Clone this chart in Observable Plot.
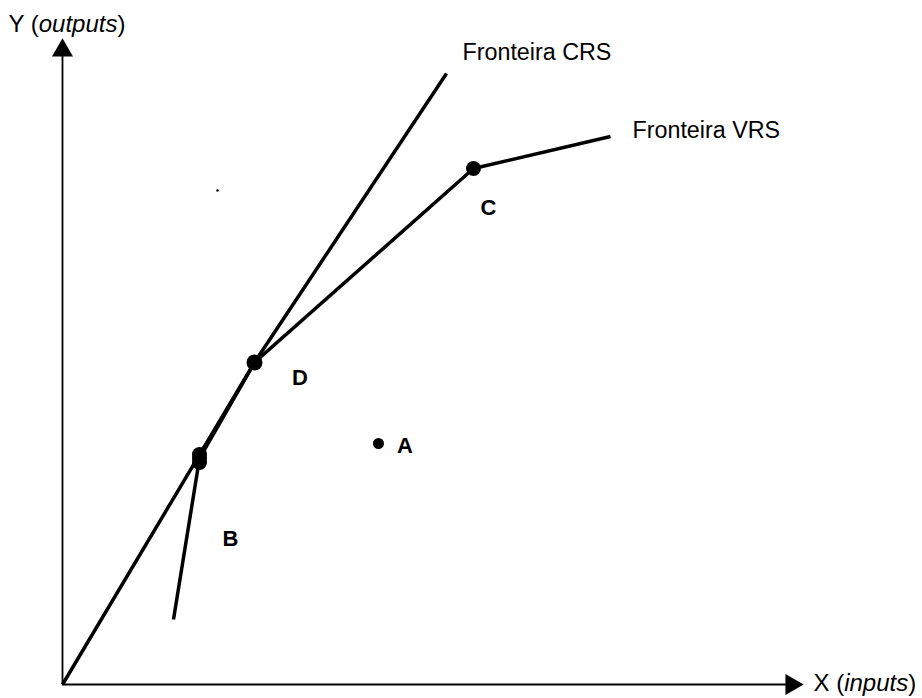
<!DOCTYPE html>
<html>
<head>
<meta charset="utf-8">
<script src="https://cdn.jsdelivr.net/npm/d3@7"></script>
<script src="https://cdn.jsdelivr.net/npm/@observablehq/plot@0.6"></script>
<style>
  html, body { margin: 0; padding: 0; background: #fff; }
  #chart svg { display: block; }
</style>
</head>
<body>
<div id="chart"></div>
<script>
// Data (units: input x, output y, origin at 0,0)
const crsX = [0, 192, 384];
const crsY = [0, 322, 611];
const vrsX = [111, 137, 192, 411, 548];
const vrsY = [65, 226, 322, 516, 548];
const pointNames = ["A", "B", "B", "B", "C", "D"];
const pointX = [316, 137, 137, 137, 411, 192];
const pointY = [241, 230, 226, 222, 516, 322];
const pointR = [5.5, 7.5, 7.5, 7.5, 7.5, 8];
const labelNames = ["A", "B", "C", "D"];
const labelX = [342.5, 168, 426, 237.5];
const labelY = [239, 146, 477, 307];
const frontierNames = ["Fronteira CRS", "Fronteira VRS"];
const frontierX = [400, 570];
const frontierY = [631.5, 553.5];
const strayX = [155];
const strayY = [494];

const crs = crsX.map((x, i) => ({x, y: crsY[i]}));
const vrs = vrsX.map((x, i) => ({x, y: vrsY[i]}));
const pts = pointX.map((x, i) => ({name: pointNames[i], x, y: pointY[i], r: pointR[i]}));
const labels = labelX.map((x, i) => ({name: labelNames[i], x, y: labelY[i]}));
const fronts = frontierX.map((x, i) => ({name: frontierNames[i], x, y: frontierY[i]}));

const font = "'Liberation Sans', Arial, Helvetica, sans-serif";

const plot = Plot.plot({
  width: 922,
  height: 698,
  margin: 0,
  x: {domain: [-62, 860], range: [0, 922], axis: null},
  y: {domain: [-14, 684], range: [698, 0], axis: null},
  r: {type: "identity"},
  style: {background: "#fff", fontFamily: font},
  marks: [
    // axes
    Plot.ruleX([0], {y1: 0, y2: 630, stroke: "#000", strokeWidth: 1.8}),
    Plot.ruleY([0], {x1: 0, x2: 725, stroke: "#000", strokeWidth: 1.8}),
    Plot.dot([{x: 0, y: 634}], {x: "x", y: "y", symbol: "triangle", r: 7.8, fill: "#000", stroke: null}),
    Plot.dot([{x: 729, y: 0}], {x: "x", y: "y", symbol: "triangle", r: 7.8, fill: "#000", stroke: null, rotate: 90}),
    // frontiers
    Plot.line(crs, {x: "x", y: "y", stroke: "#000", strokeWidth: 3.5, strokeLinecap: "butt"}),
    Plot.line(vrs, {x: "x", y: "y", stroke: "#000", strokeWidth: 3.5, strokeLinecap: "butt", strokeLinejoin: "round"}),
    // DMU points
    Plot.dot(pts, {x: "x", y: "y", r: "r", fill: "#000", stroke: null}),
    Plot.dot(strayX.map((x, i) => ({x, y: strayY[i]})), {x: "x", y: "y", r: 1.2, fill: "#000", stroke: null}),
    // labels
    Plot.text(labels, {x: "x", y: "y", text: "name", fontSize: 22, fontWeight: "bold", fill: "#000", textAnchor: "middle", lineAnchor: "middle"}),
    Plot.text(fronts, {x: "x", y: "y", text: "name", fontSize: 23.3, fill: "#000", textAnchor: "start", lineAnchor: "middle"}),
    Plot.text([{x: -54, y: 659.7, t: "Y (outputs)"}], {x: "x", y: "y", text: "t", fontSize: 24, fill: "#000", textAnchor: "start", lineAnchor: "middle", className: "axlab"}),
    Plot.text([{x: 751, y: 1.5, t: "X (inputs)"}], {x: "x", y: "y", text: "t", fontSize: 24, fill: "#000", textAnchor: "start", lineAnchor: "middle", className: "axlab"})
  ]
});

// Italicise the words inside the parentheses
plot.querySelectorAll(".axlab text").forEach(t => {
  const s = t.textContent;
  const m = s.match(/^(.*\()(.*)(\))$/);
  if (!m) return;
  while (t.firstChild) t.removeChild(t.firstChild);
  const ns = "http://www.w3.org/2000/svg";
  [[m[1], "normal"], [m[2], "italic"], [m[3], "normal"]].forEach(([txt, st]) => {
    const sp = document.createElementNS(ns, "tspan");
    sp.setAttribute("font-style", st);
    sp.textContent = txt;
    t.appendChild(sp);
  });
});

document.getElementById("chart").appendChild(plot);
</script>
</body>
</html>
